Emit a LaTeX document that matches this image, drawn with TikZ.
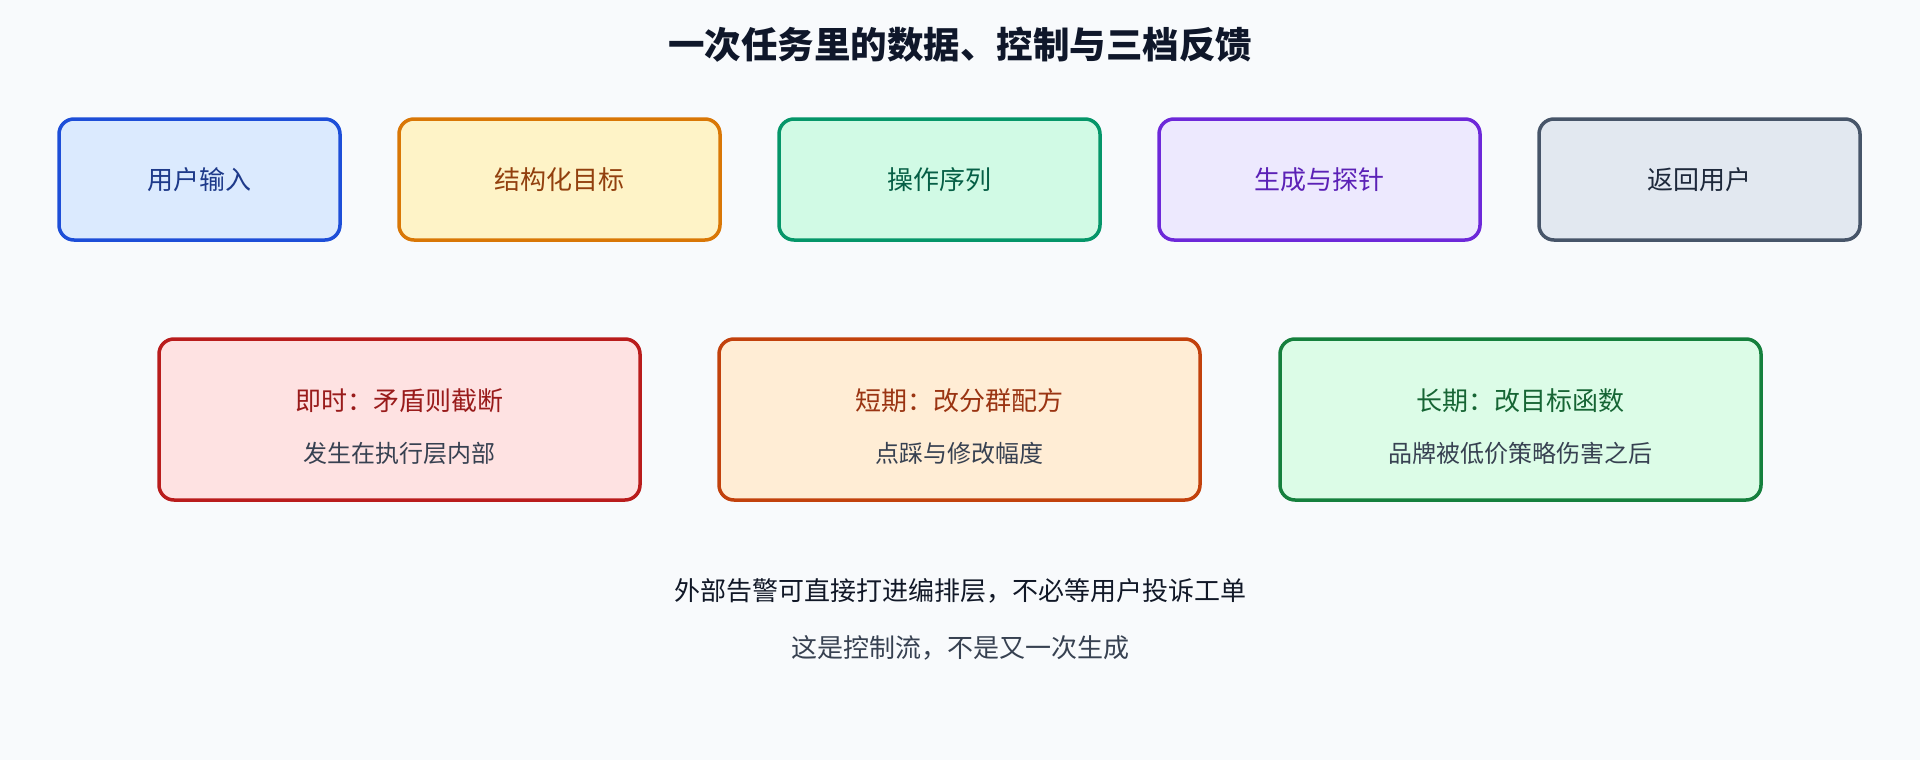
\documentclass[tikz,border=0pt]{standalone}
\usepackage{fontspec}
\setmainfont{Noto Sans CJK SC}
\usepackage{xcolor}
\usepackage{tikz}
\usetikzlibrary{
    positioning
}
\definecolor{bgcol}{HTML}{F8FAFC}
\definecolor{titlecol}{HTML}{0F172A}
\definecolor{subgray}{HTML}{374151}
\definecolor{notecol}{HTML}{111827}
% stage colours
\definecolor{inpfill}{HTML}{DBEAFE}\definecolor{inpline}{HTML}{1D4ED8}\definecolor{inptext}{HTML}{1E3A8A}
\definecolor{goalfill}{HTML}{FEF3C7}\definecolor{goalline}{HTML}{D97706}\definecolor{goaltext}{HTML}{92400E}
\definecolor{opsfill}{HTML}{D1FAE5}\definecolor{opsline}{HTML}{059669}\definecolor{opstext}{HTML}{065F46}
\definecolor{genfill}{HTML}{EDE9FE}\definecolor{genline}{HTML}{6D28D9}\definecolor{gentext}{HTML}{5B21B6}
\definecolor{retfill}{HTML}{E2E8F0}\definecolor{retline}{HTML}{475569}\definecolor{rettext}{HTML}{1E293B}
% feedback colours
\definecolor{nowfill}{HTML}{FEE2E2}\definecolor{nowline}{HTML}{B91C1C}\definecolor{nowtext}{HTML}{991B1B}
\definecolor{shortfill}{HTML}{FFEDD5}\definecolor{shortline}{HTML}{C2410C}\definecolor{shorttext}{HTML}{9A3412}
\definecolor{longfill}{HTML}{DCFCE7}\definecolor{longline}{HTML}{15803D}\definecolor{longtext}{HTML}{166534}
\tikzset{
    stagebox/.style={
        rectangle, draw, line width=3.5pt,
        rounded corners=15pt,
        minimum width=321pt, minimum height=121pt,
        align=center,
        font=\fontsize{26}{30}\selectfont
    },
    loopbox/.style={
        rectangle, draw, line width=3.5pt,
        rounded corners=15pt,
        minimum width=481pt, minimum height=161pt
    },
    headtxt/.style={
        font=\fontsize{26}{30}\selectfont
    },
    subtxt/.style={
        font=\fontsize{24}{28}\selectfont, text=subgray
    },
    blocktitle/.style={
        font=\fontsize{36.5}{40}\selectfont\bfseries, text=titlecol
    },
    notetxt/.style={
        font=\fontsize{26}{30}\selectfont
    }
}

\begin{document}
\begin{tikzpicture}[
        x=1pt, y=1pt,
        node distance=55.5pt
    ]

        % Background
        \fill[bgcol] (0,0) rectangle (1920,-760);

        % Title
        \node[blocktitle] (title) at (960,-45) {一次任务里的数据、控制与三档反馈};

        % Data path
        \node[stagebox, minimum width=281pt, fill=inpfill, draw=inpline, text=inptext] (input) at (199.5,-179.5) {用户输入};
        \node[stagebox, right=of input, fill=goalfill, draw=goalline, text=goaltext] (goal) {结构化目标};
        \node[stagebox, right=of goal, fill=opsfill, draw=opsline, text=opstext] (ops) {操作序列};
        \node[stagebox, right=of ops, fill=genfill, draw=genline, text=gentext] (gen) {生成与探针};
        \node[stagebox, right=of gen, fill=retfill, draw=retline, text=rettext] (ret) {返回用户};

        % Feedback tiers
        \node[loopbox, fill=nowfill, draw=nowline] (instant) at (399.5,-419.5) {};
        \node[loopbox, right=75.5pt of instant, fill=shortfill, draw=shortline] (short) {};
        \node[loopbox, right=76.5pt of short, fill=longfill, draw=longline] (long) {};

        \node[headtxt, text=nowtext] (instant_h) at ([yshift=-63pt]instant.north) {即时：矛盾则截断};
        \node[subtxt] (instant_s) at ([yshift=48pt]instant.south) {发生在执行层内部};
        \node[headtxt, text=shorttext] (short_h) at ([yshift=-63pt]short.north) {短期：改分群配方};
        \node[subtxt] (short_s) at ([yshift=48pt]short.south) {点踩与修改幅度};
        \node[headtxt, text=longtext] (long_h) at ([yshift=-63pt]long.north) {长期：改目标函数};
        \node[subtxt] (long_s) at ([yshift=48pt]long.south) {品牌被低价策略伤害之后};

        % Notes
        \node[notetxt, text=notecol] (alert) at (960,-591) {外部告警可直接打进编排层，不必等用户投诉工单};
        \node[notetxt, text=subgray] (ctrl) at (960,-648) {这是控制流，不是又一次生成};

    \end{tikzpicture}
\end{document}
